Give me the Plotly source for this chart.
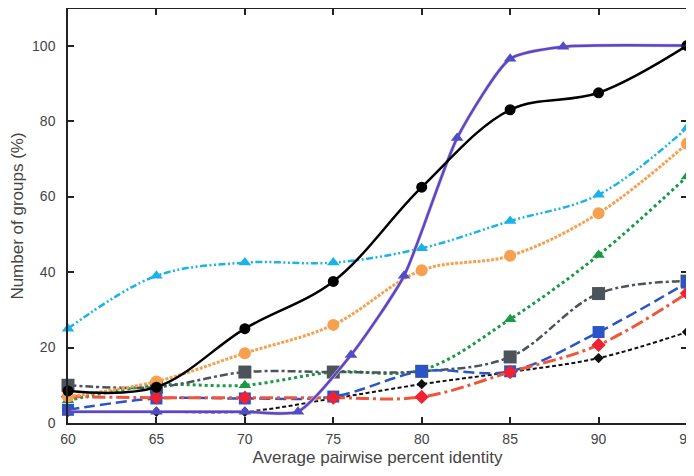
import plotly.graph_objects as go

x_all = [60, 65, 70, 75, 80, 85, 90, 95]

black_solid = [8.5, 9.5, 25, 37.5, 62.5, 83, 87.5, 100]
purple_x = [60, 65, 70, 73, 76, 79, 82, 85, 88, 95]
purple_y = [3, 3, 3, 3, 18, 39, 75.5, 96.5, 99.7, 100]
lightblue = [25, 39, 42.5, 42.5, 46.3, 53.5, 60.5, 78.2]
orange = [7, 11, 18.5, 26, 40.5, 44.3, 55.6, 74]
green = [6, 10, 10, 13.5, 14, 27.5, 44.5, 65.3]
darkgray = [10, 9.5, 13.5, 13.5, 13.7, 17.5, 34.3, 37.6]
blue = [3.5, 6.5, 6.5, 7, 13.7, 13.7, 24.1, 37.2]
red = [7, 6.7, 6.7, 6.7, 6.9, 13.5, 20.7, 34.4]
black_dash = [3, 3, 3, 6.5, 10.3, 13.5, 17.2, 24.1]

fig = go.Figure()

def add(x, y, color, dash, width, symbol, msize, mcolor=None, smoothing=1.0):
    fig.add_trace(go.Scatter(
        x=x, y=y, mode="lines+markers",
        line=dict(color=color, dash=dash, width=width, shape="spline", smoothing=smoothing),
        marker=dict(symbol=symbol, size=msize, color=mcolor or color, line=dict(width=0)),
        cliponaxis=False, showlegend=False, hoverinfo="x+y"))

add(x_all, black_dash, "#111111", "4px,2.5px", 2, "diamond", 8)
add(x_all, green, "#1a9a45", "dot", 3, "triangle-up", 11)
add(x_all, darkgray, "#4b535b", "8px,3px,3px,3px", 2.5, "square", 13)
add(x_all, blue, "#2a55c8", "11px,5px", 2.5, "square", 12)
add(x_all, red, "#f2553a", "13px,4px,3px,4px", 3, "diamond", 11, "#ee2233")
add(x_all, orange, "#f7a050", "3px,1.5px", 3, "circle", 12)
add(x_all, lightblue, "#1ab2ea", "7px,2.5px,2px,2.5px,2px,2.5px", 2.5, "triangle-up", 11)
# pink halo under purple curve
fig.add_trace(go.Scatter(x=purple_x, y=purple_y, mode="lines",
                         line=dict(color="#f2b8e4", width=3.6, shape="spline", smoothing=0.6),
                         cliponaxis=False, showlegend=False, hoverinfo="skip"))
add(purple_x, purple_y, "#4f4cc4", "solid", 2.5, "triangle-up", 11, smoothing=0.6)
add(x_all, black_solid, "#000000", "solid", 2.5, "circle", 11)

axis_common = dict(showline=True, linecolor="#222222", linewidth=1.5, mirror="allticks",
                   ticks="inside", ticklen=6, tickwidth=1.5, tickcolor="#222222",
                   showgrid=False, zeroline=False, automargin=False,
                   ticklabeloverflow="allow",
                   tickfont=dict(family="Liberation Sans, Arial, sans-serif", size=14, color="#444444"),
                   title_font=dict(family="Liberation Sans, Arial, sans-serif", size=17, color="#444444"))

# page body has an 8px default margin, so the figure is offset by (8, 8)
fig.update_layout(
    width=686, height=468,
    margin=dict(l=60, r=7, t=1, b=53),
    paper_bgcolor="white", plot_bgcolor="white",
    xaxis=dict(range=[60, 95], tickvals=[60, 65, 70, 75, 80, 85, 90, 95], ticklabelstandoff=2,
               title=dict(text="Average pairwise percent identity", standoff=6), **axis_common),
    yaxis=dict(range=[0, 109.7], tickvals=[0, 20, 40, 60, 80, 100], ticklabelstandoff=8,
               title=dict(text="Number of groups (%)", standoff=8), **axis_common),
)

fig.write_html("out.html")
